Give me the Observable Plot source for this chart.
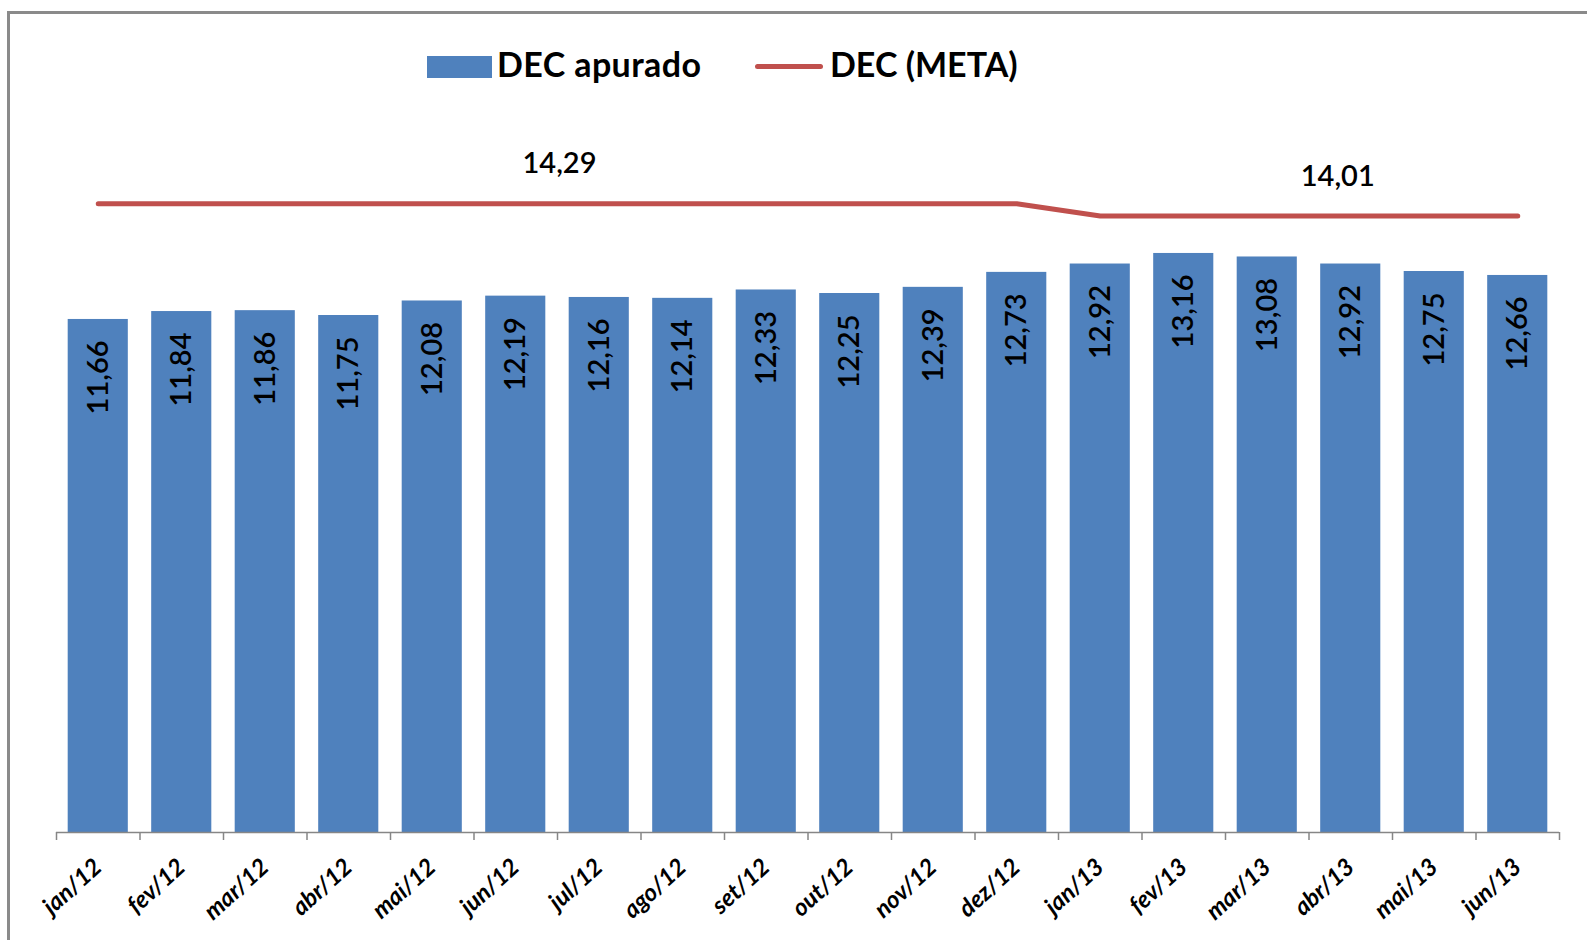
<!DOCTYPE html>
<html><head><meta charset="utf-8">
<script src="https://cdn.jsdelivr.net/npm/d3@7"></script>
<script src="https://cdn.jsdelivr.net/npm/@observablehq/plot@0.6"></script>
<style>
html,body{margin:0;padding:0;background:#fff;overflow:hidden;width:1587px;height:940px;}
#frame{position:absolute;left:7px;top:11px;width:1620px;height:1000px;border:3px solid #8a8a8a;box-sizing:border-box;background:#fff;}
#legend{position:relative;height:96px;font-family:Lato,"Open Sans",sans-serif;font-weight:700;font-size:34px;color:#000;}
#legend .sw{position:absolute;left:417px;top:42px;width:65px;height:22px;background:#4f81bd;}
#legend .ln{position:absolute;left:745px;top:49.5px;width:68px;height:5px;border-radius:3px;background:#c0504d;}
#legend .t{position:absolute;top:33px;line-height:1;white-space:nowrap;}
#chart svg{display:block;}
</style></head>
<body>
<div id="frame">
  <div id="legend">
    <div class="sw"></div><div class="t" style="left:487px;letter-spacing:0.4px">DEC apurado</div>
    <div class="ln"></div><div class="t" style="left:820px">DEC (META)</div>
  </div>
  <div id="chart"></div>
</div>
<script>
const months = ["jan/12","fev/12","mar/12","abr/12","mai/12","jun/12","jul/12","ago/12","set/12","out/12","nov/12","dez/12","jan/13","fev/13","mar/13","abr/13","mai/13","jun/13"];
const decApurado = [11.66,11.84,11.86,11.75,12.08,12.19,12.16,12.14,12.33,12.25,12.39,12.73,12.92,13.16,13.08,12.92,12.75,12.66];
const decMeta = [14.29,14.29,14.29,14.29,14.29,14.29,14.29,14.29,14.29,14.29,14.29,14.29,14.01,14.01,14.01,14.01,14.01,14.01];

const fmt = v => v.toFixed(2).replace(".", ",");
const data = months.map((m, i) => ({month: m, dec: decApurado[i], meta: decMeta[i]}));

const W = 1577, H = 830, ML = 46, MR = 28, MT = 62, MB = 108;
const step = (W - ML - MR) / months.length;
const gray = "#868686";
const font = "Lato, 'Open Sans', sans-serif";

const chart = Plot.plot({
  width: W, height: H,
  marginLeft: ML, marginRight: MR, marginTop: MT, marginBottom: MB,
  style: {fontFamily: font, background: "#fff", overflow: "visible"},
  x: {domain: months, paddingInner: 0.28, paddingOuter: 0.14, round: false, label: null},
  y: {domain: [0, 15], axis: null},
  marks: [
    Plot.barY(data, {x: "month", y: "dec", fill: "#4f81bd"}),
    Plot.ruleY([0], {stroke: gray, strokeWidth: 1.5}),
    Plot.ruleX(data, {x: "month", y1: 0, y2: 0, dx: -step / 2, insetBottom: -8, stroke: gray, strokeWidth: 1.5}),
    Plot.ruleX(data.slice(-1), {x: "month", y1: 0, y2: 0, dx: step / 2, insetBottom: -8, stroke: gray, strokeWidth: 1.5}),
    Plot.axisX({tickSize: 0, tickPadding: 31, tickRotate: -42, fontSize: 24, fontWeight: "bold", fontStyle: "italic", fill: "#000", dx: 0}),
    Plot.text(data, {x: "month", y: "dec", text: d => fmt(d.dec), rotate: -90, textAnchor: "end", dy: 21, fontSize: 29, fontWeight: 600, fill: "#000"}),
    Plot.line(data, {x: "month", y: "meta", stroke: "#c0504d", strokeWidth: 5, strokeLinecap: "round", strokeLinejoin: "round"}),
    Plot.text(data.filter(d => d.month === "jun/12"), {x: "month", y: "meta", text: d => fmt(d.meta), dx: step / 2 + 2, dy: -40, fontSize: 29, fontWeight: 600, fill: "#000"}),
    Plot.text(data.filter(d => d.month === "abr/13"), {x: "month", y: "meta", text: d => fmt(d.meta), dx: -13, dy: -39, fontSize: 29, fontWeight: 600, fill: "#000"})
  ]
});
document.getElementById("chart").appendChild(chart);
</script>
</body></html>
